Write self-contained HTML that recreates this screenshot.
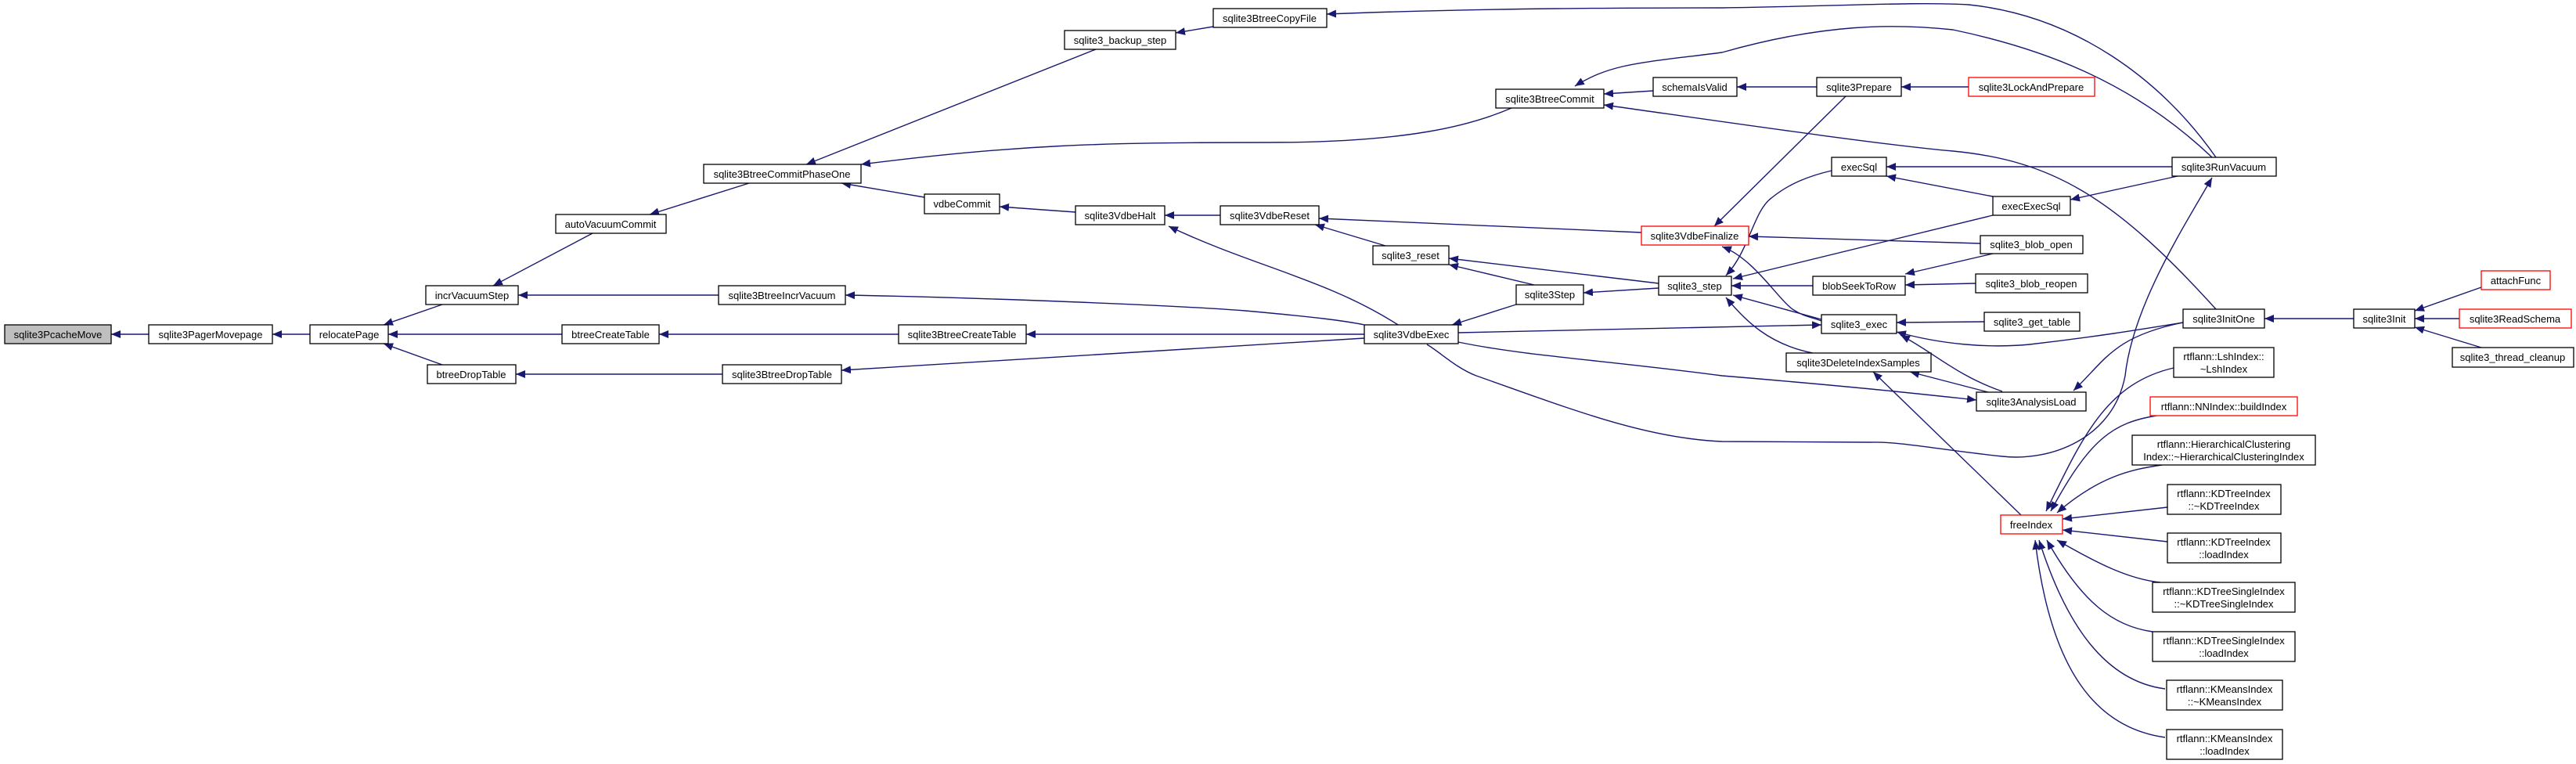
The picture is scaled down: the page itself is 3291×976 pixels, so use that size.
<!DOCTYPE html>
<html><head><meta charset="utf-8"><style>
html,body{margin:0;padding:0;background:#fff;width:3291px;height:976px;overflow:hidden}
svg text{font-family:"Liberation Sans",Arial,sans-serif;font-size:13px;fill:#000;text-anchor:middle}
.n{fill:#fff;stroke:#000;stroke-width:1.3}
.r{fill:#fff;stroke:#ff0000;stroke-width:1.3}
.g{fill:#bfbfbf;stroke:#000;stroke-width:1.3}
.e{fill:none;stroke:#191970;stroke-width:1.4;marker-start:url(#a)}
</style></head><body>
<svg width="3291" height="976" viewBox="0 0 3291 976" xmlns="http://www.w3.org/2000/svg">
<defs><marker id="a" viewBox="0 0 12 10" refX="0" refY="5" markerWidth="12" markerHeight="10" markerUnits="userSpaceOnUse" orient="auto"><path d="M0,5 L12,0 L12,10 Z" fill="#191970"/></marker></defs>

<!-- edges: path starts at callee (arrow end) -->
<path class="e" d="M142,427 L190,427"/>
<path class="e" d="M348,427 L396,427"/>
<path class="e" d="M490,415 L565,389"/>
<path class="e" d="M496,427 L718,427"/>
<path class="e" d="M490,439 L565,466"/>
<path class="e" d="M630,365 L757,298"/>
<path class="e" d="M662,377 L918,377"/>
<path class="e" d="M830,274 L957,234"/>
<path class="e" d="M842,427 L1148,427"/>
<path class="e" d="M659,478 L923,478"/>
<path class="e" d="M1030,210 L1400,63"/>
<path class="e" d="M1100,210 C1300,185 1400,182 1620,182 C1800,182 1880,160 1931,138"/>
<path class="e" d="M1075,234 L1181,252"/>
<path class="e" d="M1502,42 L1550,34"/>
<path class="e" d="M1695,18 C1900,10 2100,10 2200,10 C2350,8 2450,2 2515,6 C2650,20 2760,100 2831,201"/>
<path class="e" d="M2012,110 C2060,80 2100,80 2200,67 C2330,30 2420,30 2495,38 C2600,60 2720,100 2826,201"/>
<path class="e" d="M2049,134 C2150,148 2400,185 2495,193 C2620,205 2700,250 2831,395"/>
<path class="e" d="M2049,120 L2112,116"/>
<path class="e" d="M2219,111 L2321,111"/>
<path class="e" d="M2429,111 L2515,111"/>
<path class="e" d="M2190,289 L2358,123"/>
<path class="e" d="M2234,302 L2530,311"/>
<path class="e" d="M2200,315 C2240,330 2270,380 2290,395 C2305,405 2315,405 2327,410"/>
<path class="e" d="M1685,279 L2097,297"/>
<path class="e" d="M2205,352 C2235,320 2240,270 2263,253 C2285,235 2310,225 2340,218"/>
<path class="e" d="M2214,356 L2546,275"/>
<path class="e" d="M2212,365 L2316,365"/>
<path class="e" d="M2214,377 L2327,408"/>
<path class="e" d="M2205,380 C2230,410 2260,440 2316,451"/>
<path class="e" d="M2327,415 L1863,425"/>
<path class="e" d="M2423,412 L2535,411"/>
<path class="e" d="M2423,424 C2480,440 2540,445 2593,440 C2680,430 2740,420 2789,412"/>
<path class="e" d="M2428,428 C2470,450 2500,480 2558,500"/>
<path class="e" d="M2440,475 L2540,501"/>
<path class="e" d="M2393,475 L2582,658"/>
<path class="e" d="M2525,511 C2450,503 2380,495 2200,480 C2050,460 1950,455 1863,437"/>
<path class="e" d="M2649,499 C2690,460 2700,430 2789,412"/>
<path class="e" d="M2826,227 C2790,290 2725,390 2715,480 C2700,560 2620,590 2558,583 C2480,575 2430,564 2389,565 L2200,564 C2100,560 2000,520 1886,480 C1860,470 1840,450 1823,440"/>
<path class="e" d="M1851,330 L2119,362"/>
<path class="e" d="M2023,374 L2119,368"/>
<path class="e" d="M1851,338 L1960,364"/>
<path class="e" d="M1680,287 L1770,314"/>
<path class="e" d="M1488,275 L1559,275"/>
<path class="e" d="M1277,264 L1374,271"/>
<path class="e" d="M1493,289 C1600,340 1696,357 1786,415"/>
<path class="e" d="M1855,415 L1937,389"/>
<path class="e" d="M1080,377 C1250,380 1500,390 1591,397 C1680,405 1720,410 1743,415"/>
<path class="e" d="M1311,427 L1743,427"/>
<path class="e" d="M1075,473 L1743,432"/>
<path class="e" d="M2434,350 L2546,324"/>
<path class="e" d="M2434,364 L2524,362"/>
<path class="e" d="M2410,213 L2775,213"/>
<path class="e" d="M2410,225 L2546,251"/>
<path class="e" d="M2645,255 L2782,225"/>
<path class="e" d="M2893,407 L3007,407"/>
<path class="e" d="M3085,397 L3170,367"/>
<path class="e" d="M3085,407 L3142,407"/>
<path class="e" d="M3085,418 L3170,444"/>
<path class="e" d="M2614,653 C2660,560 2690,490 2777,470"/>
<path class="e" d="M2620,653 C2670,560 2700,540 2755,531"/>
<path class="e" d="M2628,655 C2680,610 2720,600 2762,594"/>
<path class="e" d="M2635,663 L2769,648"/>
<path class="e" d="M2635,677 L2769,692"/>
<path class="e" d="M2628,690 C2680,720 2720,740 2760,744"/>
<path class="e" d="M2615,690 C2660,770 2700,800 2750,807"/>
<path class="e" d="M2605,690 C2640,800 2690,870 2766,880"/>
<path class="e" d="M2600,690 C2620,860 2680,930 2766,942"/>

<!-- nodes -->
<rect class="g" x="6" y="415" width="136" height="24"/><text x="74" y="432">sqlite3PcacheMove</text>
<rect class="n" x="190" y="415" width="158" height="24"/><text x="269" y="432">sqlite3PagerMovepage</text>
<rect class="n" x="396" y="415" width="100" height="24"/><text x="446" y="432">relocatePage</text>
<rect class="n" x="544" y="365" width="118" height="24"/><text x="603" y="382">incrVacuumStep</text>
<rect class="n" x="710" y="274" width="141" height="24"/><text x="780" y="291">autoVacuumCommit</text>
<rect class="n" x="899" y="210" width="201" height="24"/><text x="999" y="227">sqlite3BtreeCommitPhaseOne</text>
<rect class="n" x="918" y="365" width="162" height="24"/><text x="999" y="382">sqlite3BtreeIncrVacuum</text>
<rect class="n" x="718" y="415" width="124" height="24"/><text x="780" y="432">btreeCreateTable</text>
<rect class="n" x="546" y="466" width="113" height="24"/><text x="602" y="483">btreeDropTable</text>
<rect class="n" x="923" y="466" width="152" height="24"/><text x="999" y="483">sqlite3BtreeDropTable</text>
<rect class="n" x="1550" y="11" width="145" height="24"/><text x="1622" y="28">sqlite3BtreeCopyFile</text>
<rect class="n" x="1360" y="39" width="142" height="24"/><text x="1431" y="56">sqlite3_backup_step</text>
<rect class="n" x="1911" y="114" width="138" height="24"/><text x="1980" y="131">sqlite3BtreeCommit</text>
<rect class="n" x="2112" y="99" width="107" height="24"/><text x="2165" y="116">schemaIsValid</text>
<rect class="n" x="1181" y="248" width="96" height="25"/><text x="1229" y="265">vdbeCommit</text>
<rect class="n" x="1374" y="263" width="114" height="24"/><text x="1431" y="280">sqlite3VdbeHalt</text>
<rect class="n" x="1559" y="263" width="126" height="24"/><text x="1622" y="280">sqlite3VdbeReset</text>
<rect class="r" x="2097" y="289" width="137" height="24"/><text x="2165" y="306">sqlite3VdbeFinalize</text>
<rect class="n" x="1754" y="314" width="97" height="24"/><text x="1802" y="331">sqlite3_reset</text>
<rect class="n" x="1937" y="364" width="86" height="25"/><text x="1980" y="381">sqlite3Step</text>
<rect class="n" x="2119" y="353" width="93" height="24"/><text x="2165" y="370">sqlite3_step</text>
<rect class="n" x="1148" y="415" width="163" height="24"/><text x="1229" y="432">sqlite3BtreeCreateTable</text>
<rect class="n" x="1743" y="415" width="120" height="24"/><text x="1803" y="432">sqlite3VdbeExec</text>
<rect class="n" x="2321" y="99" width="108" height="24"/><text x="2375" y="116">sqlite3Prepare</text>
<rect class="r" x="2515" y="99" width="161" height="24"/><text x="2595" y="116">sqlite3LockAndPrepare</text>
<rect class="n" x="2340" y="201" width="70" height="24"/><text x="2375" y="218">execSql</text>
<rect class="n" x="2775" y="201" width="133" height="24"/><text x="2841" y="218">sqlite3RunVacuum</text>
<rect class="n" x="2546" y="251" width="99" height="24"/><text x="2595" y="268">execExecSql</text>
<rect class="n" x="2530" y="301" width="131" height="23"/><text x="2595" y="317">sqlite3_blob_open</text>
<rect class="n" x="2316" y="353" width="118" height="24"/><text x="2375" y="370">blobSeekToRow</text>
<rect class="n" x="2524" y="350" width="143" height="24"/><text x="2595" y="367">sqlite3_blob_reopen</text>
<rect class="n" x="2327" y="402" width="96" height="24"/><text x="2375" y="419">sqlite3_exec</text>
<rect class="n" x="2535" y="399" width="122" height="24"/><text x="2596" y="416">sqlite3_get_table</text>
<rect class="n" x="2789" y="395" width="104" height="24"/><text x="2841" y="412">sqlite3InitOne</text>
<rect class="n" x="3007" y="395" width="78" height="24"/><text x="3046" y="412">sqlite3Init</text>
<rect class="r" x="3170" y="346" width="88" height="24"/><text x="3214" y="363">attachFunc</text>
<rect class="r" x="3142" y="395" width="143" height="24"/><text x="3213" y="412">sqlite3ReadSchema</text>
<rect class="n" x="3133" y="444" width="155" height="25"/><text x="3210" y="461">sqlite3_thread_cleanup</text>
<rect class="n" x="2282" y="451" width="185" height="24"/><text x="2374" y="468">sqlite3DeleteIndexSamples</text>
<rect class="n" x="2777" y="444" width="128" height="38"/><text x="2841" y="460">rtflann::LshIndex::</text><text x="2841" y="476">~LshIndex</text>
<rect class="n" x="2525" y="501" width="140" height="24"/><text x="2595" y="518">sqlite3AnalysisLoad</text>
<rect class="r" x="2747" y="507" width="188" height="24"/><text x="2841" y="524">rtflann::NNIndex::buildIndex</text>
<rect class="n" x="2724" y="556" width="234" height="38"/><text x="2841" y="572">rtflann::HierarchicalClustering</text><text x="2841" y="588">Index::~HierarchicalClusteringIndex</text>
<rect class="n" x="2769" y="619" width="145" height="38"/><text x="2841" y="635">rtflann::KDTreeIndex</text><text x="2841" y="651">::~KDTreeIndex</text>
<rect class="n" x="2769" y="681" width="145" height="38"/><text x="2841" y="697">rtflann::KDTreeIndex</text><text x="2841" y="713">::loadIndex</text>
<rect class="n" x="2750" y="744" width="182" height="38"/><text x="2841" y="760">rtflann::KDTreeSingleIndex</text><text x="2841" y="776">::~KDTreeSingleIndex</text>
<rect class="n" x="2750" y="807" width="182" height="38"/><text x="2841" y="823">rtflann::KDTreeSingleIndex</text><text x="2841" y="839">::loadIndex</text>
<rect class="n" x="2768" y="869" width="148" height="38"/><text x="2842" y="885">rtflann::KMeansIndex</text><text x="2842" y="901">::~KMeansIndex</text>
<rect class="n" x="2768" y="932" width="148" height="38"/><text x="2842" y="948">rtflann::KMeansIndex</text><text x="2842" y="964">::loadIndex</text>
<rect class="r" x="2556" y="658" width="79" height="24"/><text x="2595" y="675">freeIndex</text>
</svg>
</body></html>
